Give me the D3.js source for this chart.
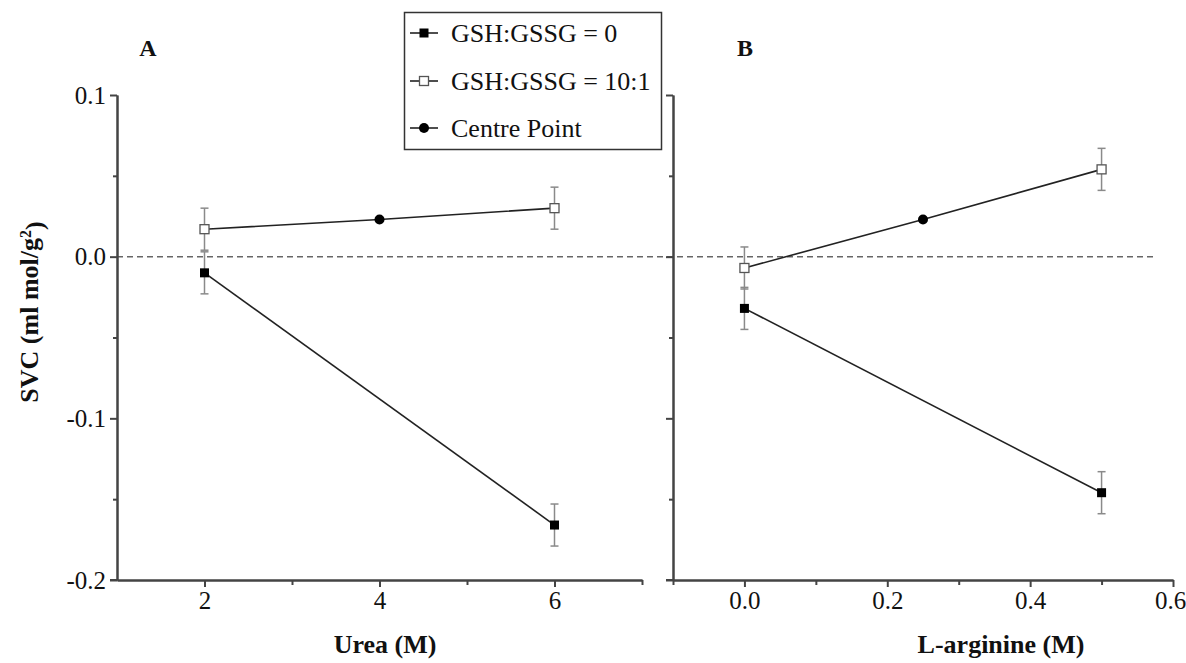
<!DOCTYPE html>
<html>
<head>
<meta charset="utf-8">
<script src="https://cdn.jsdelivr.net/npm/d3@7"></script>
<style>
  body { margin: 0; background: #fff; }
  text { font-family: "Liberation Serif", "Times New Roman", serif; fill: #111; }
</style>
</head>
<body>
<svg width="1186" height="663"></svg>
<script>
// Panel A: urea
var ureaLevels = [2, 6];
var ureaGsh0 = [-0.010, -0.166];
var ureaGsh10 = [0.017, 0.030];
var ureaErr0 = [0.013, 0.013];
var ureaErr10 = [0.013, 0.013];
var ureaCentre = [4, 0.023];

// Panel B: L-arginine
var argLevels = [0.0, 0.5];
var argGsh0 = [-0.032, -0.146];
var argGsh10 = [-0.007, 0.054];
var argErr0 = [0.013, 0.013];
var argErr10 = [0.013, 0.013];
var argCentre = [0.25, 0.023];

var yMajor = [-0.2, -0.1, 0.0, 0.1];
var yMinor = [-0.15, -0.05, 0.05];
var ureaMajor = [2, 4, 6];
var ureaMinor = [3, 5, 7];
var argMajor = [0.0, 0.2, 0.4, 0.6];
var argMinor = [-0.1, 0.1, 0.3, 0.5];

var legendLabels = ["GSH:GSSG = 0", "GSH:GSSG = 10:1", "Centre Point"];

var svg = d3.select("svg");

var yScale = d3.scaleLinear().domain([-0.2, 0.1]).range([580, 95]);
var xA = d3.scaleLinear().domain([1, 7]).range([117, 642]);
var xB = d3.scaleLinear().domain([-0.1, 0.6]).range([673, 1173]);

var axisColor = "#444";

// plain hyphen for negatives, like the original figure
function fmt1(d) { return d.toFixed(1); }

// zero reference line across both panels
svg.append("line")
  .attr("x1", xA(1)).attr("x2", 1155)
  .attr("y1", yScale(0)).attr("y2", yScale(0))
  .attr("stroke", "#666").attr("stroke-width", 1.5)
  .attr("stroke-dasharray", "6,4");

function styleAxis(g) {
  g.selectAll("path, line").attr("stroke", axisColor).attr("stroke-width", 2);
  g.selectAll("text").style("font-size", "25px")
    .style("font-family", "'Liberation Serif', serif").attr("fill", "#111");
}

function drawPanel(x, xMajor, xMinor, xFmt, showYLabels) {
  var x0 = x.range()[0];

  // y axis
  var yAx = d3.axisLeft(yScale).tickValues(yMajor).tickSize(7).tickPadding(4).tickSizeOuter(0)
    .tickFormat(showYLabels ? fmt1 : "");
  svg.append("g").attr("transform", "translate(" + x0 + ",0)").call(yAx).call(styleAxis);
  svg.append("g").attr("transform", "translate(" + x0 + ",0)")
    .call(d3.axisLeft(yScale).tickValues(yMinor).tickSize(4).tickSizeOuter(0).tickFormat(""))
    .call(styleAxis);

  // x axis
  var xAx = d3.axisBottom(x).tickValues(xMajor).tickSize(7).tickPadding(4).tickSizeOuter(0)
    .tickFormat(xFmt);
  var gx = svg.append("g").attr("transform", "translate(0,580)").call(xAx).call(styleAxis);
  svg.append("g").attr("transform", "translate(0,580)")
    .call(d3.axisBottom(x).tickValues(xMinor).tickSize(5).tickSizeOuter(0).tickFormat(""))
    .call(styleAxis);
  // extend x axis line slightly left of y axis
  svg.append("line").attr("x1", x0 - 7).attr("x2", x0)
    .attr("y1", 580).attr("y2", 580).attr("stroke", axisColor).attr("stroke-width", 2);
  return gx;
}

drawPanel(xA, ureaMajor, ureaMinor, d3.format("d"), true);
var gxB = drawPanel(xB, argMajor, argMinor, fmt1, false);
// keep the last label inside the page
gxB.selectAll(".tick text").filter(function (d) { return d === 0.6; }).attr("dx", "-3");

var line = d3.line();

function drawSeries(x, levels, gsh0, gsh10, err0, err10, centre) {
  // lines
  svg.append("path")
    .attr("d", line(levels.map(function (d, i) { return [x(d), yScale(gsh0[i])]; })))
    .attr("fill", "none").attr("stroke", "#222").attr("stroke-width", 1.6);
  var openPts = [[levels[0], gsh10[0]], centre, [levels[1], gsh10[1]]];
  svg.append("path")
    .attr("d", line(openPts.map(function (p) { return [x(p[0]), yScale(p[1])]; })))
    .attr("fill", "none").attr("stroke", "#222").attr("stroke-width", 1.6);

  // error bars
  function errBars(vals, errs) {
    var g = svg.append("g").attr("stroke", "#8a8a8a").attr("stroke-width", 1.5);
    levels.forEach(function (d, i) {
      var cx = x(d), top = yScale(vals[i] + errs[i]), bot = yScale(vals[i] - errs[i]);
      g.append("line").attr("x1", cx).attr("x2", cx).attr("y1", top).attr("y2", bot);
      g.append("line").attr("x1", cx - 4).attr("x2", cx + 4).attr("y1", top).attr("y2", top);
      g.append("line").attr("x1", cx - 4).attr("x2", cx + 4).attr("y1", bot).attr("y2", bot);
    });
  }
  errBars(gsh0, err0);
  errBars(gsh10, err10);

  // markers
  svg.selectAll(null).data(levels.map(function (d, i) { return [d, gsh0[i]]; }))
    .enter().append("rect")
    .attr("x", function (p) { return x(p[0]) - 4.5; })
    .attr("y", function (p) { return yScale(p[1]) - 4.5; })
    .attr("width", 9).attr("height", 9).attr("fill", "#000");
  svg.selectAll(null).data(levels.map(function (d, i) { return [d, gsh10[i]]; }))
    .enter().append("rect")
    .attr("x", function (p) { return x(p[0]) - 4.5; })
    .attr("y", function (p) { return yScale(p[1]) - 4.5; })
    .attr("width", 9).attr("height", 9).attr("fill", "#fff")
    .attr("stroke", "#555").attr("stroke-width", 1.3);
  svg.append("circle").attr("cx", x(centre[0])).attr("cy", yScale(centre[1]))
    .attr("r", 5).attr("fill", "#000");
}

drawSeries(xA, ureaLevels, ureaGsh0, ureaGsh10, ureaErr0, ureaErr10, ureaCentre);
drawSeries(xB, argLevels, argGsh0, argGsh10, argErr0, argErr10, argCentre);

// panel letters
svg.append("text").attr("x", 148).attr("y", 56).attr("text-anchor", "middle")
  .style("font-size", "24px").style("font-weight", "bold").text("A");
svg.append("text").attr("x", 745).attr("y", 56).attr("text-anchor", "middle")
  .style("font-size", "24px").style("font-weight", "bold").text("B");

// axis titles
svg.append("text").attr("x", 385).attr("y", 653).attr("text-anchor", "middle")
  .style("font-size", "26px").style("font-weight", "bold").text("Urea (M)");
svg.append("text").attr("x", 1001).attr("y", 653).attr("text-anchor", "middle")
  .style("font-size", "26px").style("font-weight", "bold").text("L-arginine (M)");

var yt = svg.append("text").attr("transform", "translate(38,312) rotate(-90)")
  .attr("text-anchor", "middle").style("font-size", "26px").style("font-weight", "bold");
yt.append("tspan").text("SVC (ml mol/g");
yt.append("tspan").attr("dy", "-0.45em").style("font-size", "16px").text("2");
yt.append("tspan").attr("dy", "0.45em").text(")");

// legend
var leg = svg.append("g");
leg.append("rect").attr("x", 404.5).attr("y", 12.5).attr("width", 257).attr("height", 137)
  .attr("fill", "#fff").attr("stroke", "#333").attr("stroke-width", 1.5);
var rowY = [33, 81, 128];
legendLabels.forEach(function (lab, i) {
  var y = rowY[i];
  leg.append("line").attr("x1", 410).attr("x2", 438).attr("y1", y).attr("y2", y)
    .attr("stroke", "#222").attr("stroke-width", 1.6);
  if (i === 0) {
    leg.append("rect").attr("x", 419.5).attr("y", y - 4.5).attr("width", 9).attr("height", 9).attr("fill", "#000");
  } else if (i === 1) {
    leg.append("rect").attr("x", 419.5).attr("y", y - 4.5).attr("width", 9).attr("height", 9)
      .attr("fill", "#fff").attr("stroke", "#555").attr("stroke-width", 1.3);
  } else {
    leg.append("circle").attr("cx", 424).attr("cy", y).attr("r", 5).attr("fill", "#000");
  }
  leg.append("text").attr("x", 451).attr("y", y).attr("dy", "0.35em")
    .style("font-size", "26px").text(lab);
});
</script>
</body>
</html>
